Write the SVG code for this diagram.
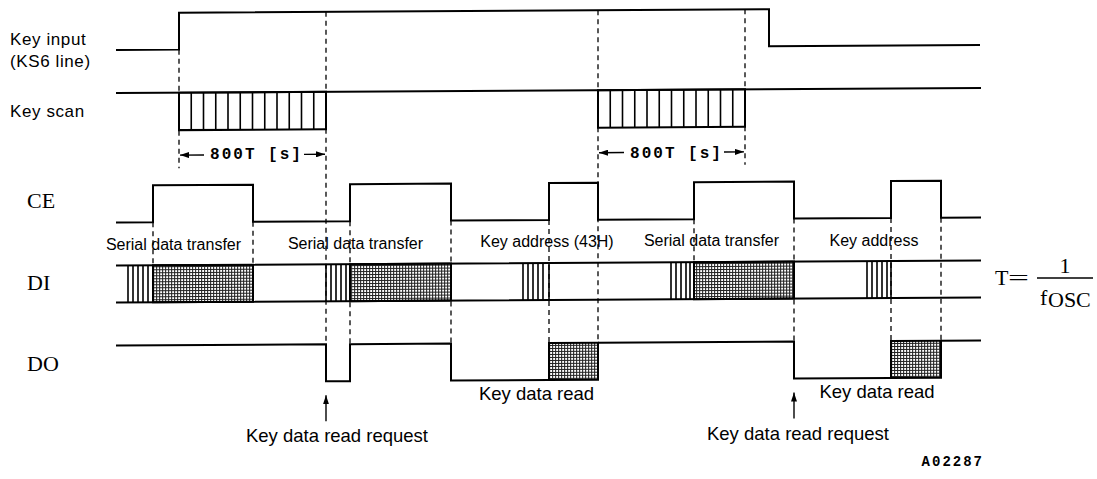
<svg xmlns="http://www.w3.org/2000/svg" width="1097" height="479" viewBox="0 0 1097 479">
<style>
.sig{fill:none;stroke:#000;stroke-width:2;stroke-linejoin:miter}
.st{fill:none;stroke:#000;stroke-width:1.6}
.dash{fill:none;stroke:#000;stroke-width:1.3;stroke-dasharray:5 4}
.dim{fill:none;stroke:#000;stroke-width:1.4}
.hat{fill:url(#dots);stroke:#000;stroke-width:2}
.row{font-family:"Liberation Sans",Arial,sans-serif;font-size:17px;letter-spacing:0.6px;fill:#000}
.lab{font-family:"Liberation Sans",Arial,sans-serif;font-size:16px;fill:#000;text-anchor:middle}
.big{font-family:"Liberation Sans",Arial,sans-serif;font-size:18.5px;fill:#000;text-anchor:middle}
.ser{font-family:"Liberation Serif","Times New Roman",serif;font-size:22px;fill:#000}
.mono{font-family:"Liberation Mono","Courier New",monospace;font-weight:bold;fill:#000}
</style>
<defs>
<pattern id="dots" width="3" height="3" patternUnits="userSpaceOnUse">
<rect width="3" height="3" fill="#fff"/>
<rect width="3" height="1" fill="#222"/>
<rect width="1" height="3" fill="#222"/>
</pattern>
<marker id="ah" viewBox="0 0 9 6" refX="9" refY="3" markerWidth="9" markerHeight="6" markerUnits="userSpaceOnUse" orient="auto">
<path d="M0,0 L9,3 L0,6 z" fill="#000"/>
</marker>
</defs>

<g transform="translate(0 3.16) skewY(-0.33)">
<g id="key-input">
<path class="sig" d="M116 47.5H179V10.5H769V47.5H980"/>
</g>
<g id="key-scan">
<path class="sig" d="M116 90.5H981"/>
<rect class="sig" x="179" y="90.5" width="147" height="37.5"/>
<rect class="sig" x="598" y="90.5" width="147" height="37.5"/>
<path class="st" d="M191.25 90.5V128M203.5 90.5V128M215.75 90.5V128M228 90.5V128M240.25 90.5V128M252.5 90.5V128M264.75 90.5V128M277 90.5V128M289.25 90.5V128M301.5 90.5V128M313.75 90.5V128"/>
<path class="st" d="M610.25 90.5V128M622.5 90.5V128M634.75 90.5V128M647 90.5V128M659.25 90.5V128M671.5 90.5V128M683.75 90.5V128M696 90.5V128M708.25 90.5V128M720.5 90.5V128M732.75 90.5V128"/>
</g>
<g id="ce">
<path class="sig" d="M116 220H153V183H253V220H350V183H451V220H549V183H598V220H694V183H794V220H891V183H941V220H981"/>
</g>
<g id="di">
<rect class="hat" x="153" y="263" width="100" height="37"/>
<rect class="hat" x="350" y="263" width="101" height="37"/>
<rect class="hat" x="694" y="263" width="100" height="37"/>
<path class="sig" d="M116 263H981M116 300H981"/>
<path class="st" d="M128 263V300M133 263V300M138 263V300M143 263V300M148 263V300"/>
<path class="st" d="M326 263V300M331 263V300M336 263V300M341 263V300M346 263V300"/>
<path class="st" d="M523 263V300M528 263V300M533 263V300M538 263V300M543 263V300M549 263V300"/>
<path class="st" d="M671 263V300M676 263V300M681 263V300M686 263V300M690 263V300"/>
<path class="st" d="M867 263V300M872 263V300M877 263V300M882 263V300M887 263V300M891 263V300"/>
</g>
<g id="do">
<rect class="hat" x="549" y="343" width="49" height="37"/>
<rect class="hat" x="891" y="343" width="50" height="37"/>
<path class="sig" d="M116 343H326V380H350V343H451V380H549M598 343H794V380H891M941 343H981"/>
</g>
<g id="connectors">
<path class="dash" d="M179 47.5V166M326 10.5V343M598 10.5V343M745 10.5V166M153 220V263M253 220V263M350 220V343M451 220V343M549 220V343M694 220V263M794 220V343M891 220V343M941 220V343"/>
<path class="dim" d="M204 153H180" marker-end="url(#ah)"/>
<path class="dim" d="M304 153H325" marker-end="url(#ah)"/>
<path class="dim" d="M624 153H599" marker-end="url(#ah)"/>
<path class="dim" d="M724 153H744" marker-end="url(#ah)"/>
<path class="dim" d="M326 420V394" marker-end="url(#ah)"/>
<path class="dim" d="M794 420V394" marker-end="url(#ah)"/>
</g>
</g>

<g id="labels">
<text class="row" x="10" y="45">Key input</text>
<text class="row" x="10" y="66.5">(KS6 line)</text>
<text class="row" x="10" y="117">Key scan</text>
<text class="mono" x="256.5" y="159" font-size="16" letter-spacing="2" text-anchor="middle">800T [s]</text>
<text class="mono" x="676.5" y="158" font-size="16" letter-spacing="2" text-anchor="middle">800T [s]</text>
<text class="ser" x="27" y="208">CE</text>
<text class="ser" x="27" y="290">DI</text>
<text class="ser" x="27" y="371">DO</text>
<text class="lab" x="173.5" y="250">Serial data transfer</text>
<text class="lab" x="355.5" y="249">Serial data transfer</text>
<text class="lab" x="547" y="247">Key address (43H)</text>
<text class="lab" x="711.5" y="246">Serial data transfer</text>
<text class="lab" x="874" y="245.5">Key address</text>
<text class="big" x="536.5" y="400">Key data read</text>
<text class="big" x="877" y="398">Key data read</text>
<text class="big" x="337" y="442">Key data read request</text>
<text class="big" x="798" y="440">Key data read request</text>
<text class="mono" x="984" y="466" font-size="14" letter-spacing="2" text-anchor="end">A02287</text>
</g>
<g id="formula">
<text class="ser" x="995" y="285" font-size="20">T</text>
<text class="ser" x="1008" y="285" font-size="20" textLength="21" lengthAdjust="spacingAndGlyphs">=</text>
<line x1="1037" y1="278" x2="1093" y2="278" stroke="#000" stroke-width="1.3"/>
<text class="ser" x="1065" y="273" font-size="20" text-anchor="middle">1</text>
<text class="ser" x="1040" y="305" font-size="20">f</text>
<text class="ser" x="1048" y="307" font-size="18">OSC</text>
</g>
</svg>
